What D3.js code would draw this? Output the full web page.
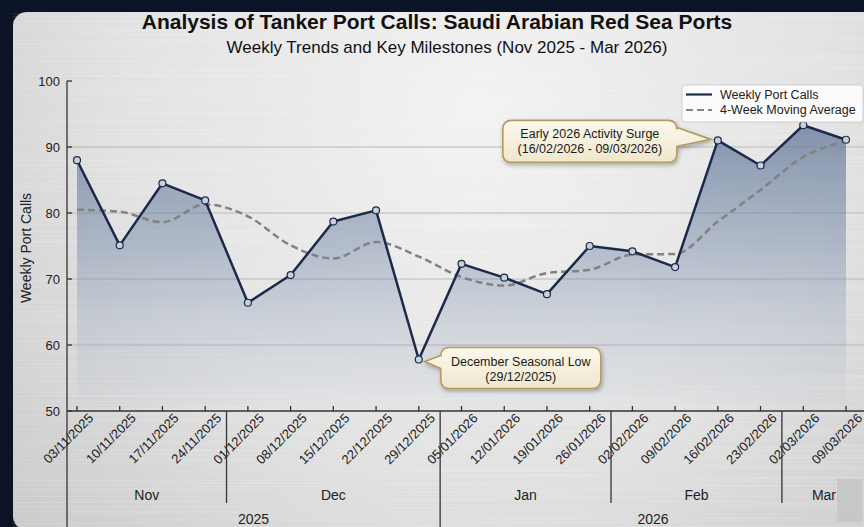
<!DOCTYPE html>
<html>
<head>
<meta charset="utf-8">
<script src="https://cdn.jsdelivr.net/npm/d3@7"></script>
<style>
  body { margin: 0; background: #0b1426; }
  svg { display: block; font-family: "Liberation Sans", Arial, sans-serif; }
</style>
</head>
<body>
<script>
// Weekly data
const weeks = ["03/11/2025", "10/11/2025", "17/11/2025", "24/11/2025",
    "01/12/2025", "08/12/2025", "15/12/2025", "22/12/2025", "29/12/2025",
    "05/01/2026", "12/01/2026", "19/01/2026", "26/01/2026",
    "02/02/2026", "09/02/2026", "16/02/2026", "23/02/2026",
    "02/03/2026", "09/03/2026"];
const port_calls = [88.0, 75.1, 84.5, 81.9, 66.4, 70.6, 78.7, 80.4, 57.8,
    72.3, 70.2, 67.7, 75.0, 74.2, 71.8, 91.0, 87.2, 93.3, 91.1];
const moving_avg = [80.5, 80.2, 78.6, 81.3, 79.5, 75.1, 73.1, 75.6, 73.4,
    70.3, 69.0, 70.9, 71.4, 73.7, 73.8, 78.7, 83.5, 88.5, 90.9];
const months = ["Nov", "Dec", "Jan", "Feb", "Mar"];
const month_weeks = [4, 5, 4, 4, 2];
const years = ["2025", "2026"];
const year_weeks = [9, 10];
const y_ticks = [50, 60, 70, 80, 90, 100];
const grid_ticks = [60, 70, 80, 90];
const notes = [
    { week: "16/02/2026", lines: ["Early 2026 Activity Surge", "(16/02/2026 - 09/03/2026)"], side: "left" },
    { week: "29/12/2025", lines: ["December Seasonal Low", "(29/12/2025)"], side: "right" }
];

var W = 864, H = 527;
var plot_left = 67, plot_right = 866, plot_top = 81, plot_bottom = 411;

var svg = d3.select("body").append("svg")
    .attr("width", W)
    .attr("height", H);

var defs = svg.append("defs");

var bg = defs.append("radialGradient")
    .attr("id", "bg")
    .attr("gradientUnits", "userSpaceOnUse")
    .attr("cx", 480).attr("cy", 110).attr("r", 640);
bg.append("stop").attr("offset", 0).attr("stop-color", "#f2f2f2");
bg.append("stop").attr("offset", 0.55).attr("stop-color", "#e2e2e2");
bg.append("stop").attr("offset", 1).attr("stop-color", "#c8c8c8");

// brushed metal streaks
var brush = defs.append("filter").attr("id", "brush")
    .attr("x", 0).attr("y", 0).attr("width", 1).attr("height", 1);
brush.append("feTurbulence")
    .attr("type", "fractalNoise")
    .attr("baseFrequency", "0.003 0.8")
    .attr("numOctaves", 2)
    .attr("seed", 3);
brush.append("feColorMatrix")
    .attr("type", "matrix")
    .attr("values", "0 0 0 0 1  0 0 0 0 1  0 0 0 0 1  0 0 0 1.2 -0.45");

var area_grad = defs.append("linearGradient")
    .attr("id", "area_grad")
    .attr("gradientUnits", "userSpaceOnUse")
    .attr("x1", 0).attr("x2", 0)
    .attr("y1", plot_top).attr("y2", plot_bottom);
area_grad.append("stop").attr("offset", 0).attr("stop-color", "#4d6489").attr("stop-opacity", 0.78);
area_grad.append("stop").attr("offset", 0.5).attr("stop-color", "#6f84a5").attr("stop-opacity", 0.45);
area_grad.append("stop").attr("offset", 0.92).attr("stop-color", "#9aa9c0").attr("stop-opacity", 0.12);
area_grad.append("stop").attr("offset", 1).attr("stop-color", "#9aa9c0").attr("stop-opacity", 0);

var note_grad = defs.append("linearGradient")
    .attr("id", "note_grad")
    .attr("x1", 0).attr("x2", 0).attr("y1", 0).attr("y2", 1);
note_grad.append("stop").attr("offset", 0).attr("stop-color", "#fcf8ec");
note_grad.append("stop").attr("offset", 1).attr("stop-color", "#efe7cc");

var shadow = defs.append("filter").attr("id", "shadow")
    .attr("x", -0.2).attr("y", -0.3).attr("width", 1.4).attr("height", 1.6);
shadow.append("feDropShadow")
    .attr("dx", 1).attr("dy", 2)
    .attr("stdDeviation", 2)
    .attr("flood-color", "#000")
    .attr("flood-opacity", 0.3);

// card
svg.append("rect")
    .attr("x", 13).attr("y", 12)
    .attr("width", 920).attr("height", 518)
    .attr("rx", 14)
    .attr("fill", "url(#bg)");
svg.append("rect")
    .attr("x", 13).attr("y", 12)
    .attr("width", 920).attr("height", 518)
    .attr("rx", 14)
    .attr("filter", "url(#brush)")
    .attr("opacity", 0.35);

// scales
var x = d3.scalePoint().domain(weeks).range([77, 846]);
var y = d3.scaleLinear().domain([50, 100]).range([plot_bottom, plot_top]);

// titles
svg.append("text")
    .attr("x", 437).attr("y", 29)
    .attr("text-anchor", "middle")
    .attr("font-size", 21).attr("font-weight", "bold")
    .attr("fill", "#111")
    .text("Analysis of Tanker Port Calls: Saudi Arabian Red Sea Ports");
svg.append("text")
    .attr("x", 447).attr("y", 53)
    .attr("text-anchor", "middle")
    .attr("font-size", 17)
    .attr("fill", "#111")
    .text("Weekly Trends and Key Milestones (Nov 2025 - Mar 2026)");

// grid
svg.append("g").selectAll("line")
    .data(grid_ticks)
    .enter().append("line")
    .attr("x1", plot_left).attr("x2", plot_right)
    .attr("y1", function(d) { return y(d); })
    .attr("y2", function(d) { return y(d); })
    .attr("stroke", "#b8b8b8")
    .attr("stroke-width", 1);

// area + lines
var area = d3.area()
    .x(function(d, i) { return x(weeks[i]); })
    .y0(y(50))
    .y1(function(d) { return y(d); });
svg.append("path")
    .datum(port_calls)
    .attr("d", area)
    .attr("fill", "url(#area_grad)");

var ma_line = d3.line()
    .x(function(d, i) { return x(weeks[i]); })
    .y(function(d) { return y(d); })
    .curve(d3.curveMonotoneX);
svg.append("path")
    .datum(moving_avg)
    .attr("d", ma_line)
    .attr("fill", "none")
    .attr("stroke", "#828282")
    .attr("stroke-width", 2.5)
    .attr("stroke-dasharray", "7,4");

var line = d3.line()
    .x(function(d, i) { return x(weeks[i]); })
    .y(function(d) { return y(d); });
svg.append("path")
    .datum(port_calls)
    .attr("d", line)
    .attr("fill", "none")
    .attr("stroke", "#1b2a4a")
    .attr("stroke-width", 2.5)
    .attr("stroke-linejoin", "round");

svg.append("g").selectAll("circle")
    .data(port_calls)
    .enter().append("circle")
    .attr("cx", function(d, i) { return x(weeks[i]); })
    .attr("cy", function(d) { return y(d); })
    .attr("r", 3.5)
    .attr("fill", "#c9d0da")
    .attr("stroke", "#1b2a4a")
    .attr("stroke-width", 1.2);

// y axis
var y_axis = svg.append("g");
y_axis.append("line")
    .attr("x1", plot_left).attr("x2", plot_left)
    .attr("y1", plot_top).attr("y2", H)
    .attr("stroke", "#333").attr("stroke-width", 1.3);
y_axis.selectAll(".tick")
    .data(y_ticks)
    .enter().append("line")
    .attr("x1", plot_left).attr("x2", plot_left + 5)
    .attr("y1", function(d) { return y(d); })
    .attr("y2", function(d) { return y(d); })
    .attr("stroke", "#333").attr("stroke-width", 1.3);
y_axis.selectAll("text")
    .data(y_ticks)
    .enter().append("text")
    .attr("x", 60)
    .attr("y", function(d) { return y(d) + 4.5; })
    .attr("text-anchor", "end")
    .attr("font-size", 13)
    .attr("fill", "#222")
    .text(function(d) { return d; });
svg.append("text")
    .attr("transform", "translate(31,248) rotate(-90)")
    .attr("text-anchor", "middle")
    .attr("font-size", 14)
    .attr("fill", "#222")
    .text("Weekly Port Calls");

// x axis
var x_axis = svg.append("g");
x_axis.append("line")
    .attr("x1", plot_left).attr("x2", plot_right)
    .attr("y1", plot_bottom).attr("y2", plot_bottom)
    .attr("stroke", "#333").attr("stroke-width", 1.5);
x_axis.selectAll(".tick")
    .data(weeks)
    .enter().append("line")
    .attr("x1", function(d) { return x(d); })
    .attr("x2", function(d) { return x(d); })
    .attr("y1", plot_bottom).attr("y2", plot_bottom - 5)
    .attr("stroke", "#333").attr("stroke-width", 1.3);
x_axis.selectAll("text")
    .data(weeks)
    .enter().append("text")
    .attr("transform", function(d) {
        return "translate(" + (x(d) + 17) + "," + 419 + ") rotate(-45)";
    })
    .attr("text-anchor", "end")
    .attr("font-size", 13)
    .attr("fill", "#222")
    .text(function(d) { return d; });

// month / year group bands
function group_bounds(counts) {
    let out = [];
    let start = 0;
    counts.forEach(function(c, i) {
        let first = weeks[start], last = weeks[start + c - 1];
        let left = start == 0 ? plot_left : (x(weeks[start - 1]) + x(first)) / 2;
        let right = start + c >= weeks.length ? plot_right : (x(last) + x(weeks[start + c])) / 2;
        out.push({ left: left, right: right });
        start += c;
    });
    return out;
}
var month_bounds = group_bounds(month_weeks);
var year_bounds = group_bounds(year_weeks);

x_axis.selectAll(".msep")
    .data(month_bounds.slice(1))
    .enter().append("line")
    .attr("x1", function(d) { return d.left; })
    .attr("x2", function(d) { return d.left; })
    .attr("y1", plot_bottom).attr("y2", 503)
    .attr("stroke", "#333").attr("stroke-width", 1.3);
x_axis.selectAll(".ysep")
    .data(year_bounds.slice(1))
    .enter().append("line")
    .attr("x1", function(d) { return d.left; })
    .attr("x2", function(d) { return d.left; })
    .attr("y1", 503).attr("y2", H)
    .attr("stroke", "#333").attr("stroke-width", 1.3);
x_axis.selectAll(".mlab")
    .data(month_bounds)
    .enter().append("text")
    .attr("x", function(d) { return (d.left + d.right) / 2; })
    .attr("y", 500)
    .attr("text-anchor", "middle")
    .attr("font-size", 14)
    .attr("fill", "#222")
    .text(function(d, i) { return months[i]; });
x_axis.selectAll(".ylab")
    .data(year_bounds)
    .enter().append("text")
    .attr("x", function(d) { return (d.left + d.right) / 2; })
    .attr("y", 524)
    .attr("text-anchor", "middle")
    .attr("font-size", 14)
    .attr("fill", "#222")
    .text(function(d, i) { return years[i]; });

// callouts
function callout_path(x0, y0, w, h, r, side, tip) {
    let x1 = x0 + w, y1 = y0 + h;
    let b1 = tip.b1, b2 = tip.b2;
    let p = "M" + (x0 + r) + "," + y0 + "H" + (x1 - r) + "Q" + x1 + "," + y0 + " " + x1 + "," + (y0 + r);
    if (side == "left") {
        p += "V" + b1 + "L" + tip.x + "," + tip.y + "L" + x1 + "," + b2;
    }
    p += "V" + (y1 - r) + "Q" + x1 + "," + y1 + " " + (x1 - r) + "," + y1 + "H" + (x0 + r)
        + "Q" + x0 + "," + y1 + " " + x0 + "," + (y1 - r);
    if (side == "right") {
        p += "V" + b2 + "L" + tip.x + "," + tip.y + "L" + x0 + "," + b1;
    }
    p += "V" + (y0 + r) + "Q" + x0 + "," + y0 + " " + (x0 + r) + "," + y0 + "Z";
    return p;
}

notes.forEach(function(n) {
    let i = weeks.indexOf(n.week);
    let px = x(n.week), py = y(port_calls[i]);
    let g = svg.append("g");
    let bx, by, bw, bh, tip;
    if (n.side == "left") {
        bw = 174; bh = 42;
        bx = px - 41 - bw; by = py - 20;
        tip = { x: px - 7, y: py - 1, b1: by + 7, b2: by + 26 };
    } else {
        bw = 160; bh = 41;
        bx = px + 22; by = py - 12;
        tip = { x: px + 6, y: py + 2, b1: by + 8, b2: by + 21 };
    }
    g.append("path")
        .attr("d", callout_path(bx, by, bw, bh, 9, n.side, tip))
        .attr("fill", "url(#note_grad)")
        .attr("stroke", "#b49b5f")
        .attr("stroke-width", 1.6)
        .attr("filter", "url(#shadow)");
    g.selectAll("text")
        .data(n.lines)
        .enter().append("text")
        .attr("x", bx + bw / 2)
        .attr("y", function(d, k) { return by + 18 + k * 15; })
        .attr("text-anchor", "middle")
        .attr("font-size", 12.5)
        .attr("fill", "#1a1a1a")
        .text(function(d) { return d; });
});

// legend
var legend = svg.append("g");
legend.append("rect")
    .attr("x", 682).attr("y", 85)
    .attr("width", 181).attr("height", 37)
    .attr("rx", 3)
    .attr("fill", "#fff").attr("fill-opacity", 0.85)
    .attr("stroke", "#cfcfcf");
var legend_items = [
    { label: "Weekly Port Calls", color: "#1b2a4a", dash: null },
    { label: "4-Week Moving Average", color: "#828282", dash: "7,4" }
];
legend_items.forEach(function(d, i) {
    let ly = 94.5 + i * 15.5;
    legend.append("line")
        .attr("x1", 686).attr("x2", 712)
        .attr("y1", ly).attr("y2", ly)
        .attr("stroke", d.color)
        .attr("stroke-width", 2.2)
        .attr("stroke-dasharray", d.dash);
    legend.append("text")
        .attr("x", 720).attr("y", ly + 4)
        .attr("font-size", 12.5)
        .attr("fill", "#222")
        .text(d.label);
});

// faint square in the lower right corner of the picture
svg.append("rect")
    .attr("x", 837).attr("y", 479)
    .attr("width", 25).attr("height", 43)
    .attr("fill", "#c4c4c4").attr("opacity", 0.8);
</script>
</body>
</html>
